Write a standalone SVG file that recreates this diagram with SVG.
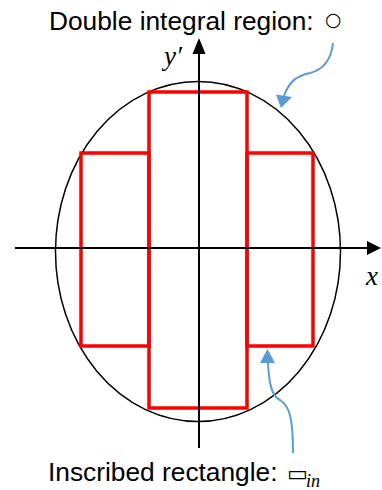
<svg xmlns="http://www.w3.org/2000/svg" width="382" height="490" viewBox="0 0 382 490">
<style>
.lbl{font-family:"Liberation Sans",Arial,sans-serif;font-size:26.3px;fill:#000}
.var{font-family:"Liberation Serif","Times New Roman",serif;font-style:italic;fill:#000}
.sym{font-family:"DejaVu Sans",sans-serif;fill:#000}
.axis{stroke:#000;stroke-width:2;fill:none}
.rect{fill:none;stroke:#FF0000;stroke-width:3.5}
.call{fill:none;stroke:#5B9BD5;stroke-width:2}
.callhead{fill:#5B9BD5}
</style>
<rect width="382" height="490" fill="#fff"/>
<g id="region">
<ellipse cx="198" cy="251.5" rx="142.5" ry="170" fill="none" stroke="#000" stroke-width="1.5"/>
</g>
<g id="rectangles">
<rect class="rect" x="149" y="92" width="98" height="316"/>
<rect class="rect" x="81" y="153" width="68" height="193"/>
<rect class="rect" x="247" y="153" width="66" height="193"/>
</g>
<g id="axes">
<line class="axis" x1="199" y1="448" x2="199" y2="52"/>
<polygon points="199,38 192.5,54 205.5,54" fill="#000"/>
<line class="axis" x1="15" y1="248" x2="368" y2="248"/>
<polygon points="381,248 367,241 367,255" fill="#000"/>
<text class="var" x="164" y="65" font-size="27">y′</text>
<text class="var" x="366" y="285" font-size="27">x</text>
</g>
<g id="connectors">
<path class="call" d="M333,43 C331,62 322,70 310,73 C296,76 289,82 284,96"/>
<polygon class="callhead" points="281,108 276,94.5 292,97"/>
<path class="call" d="M268,362 C269,385 272,396 280,400 C290,406 293,420 293,453"/>
<polygon class="callhead" points="267.5,349 260,363 275,363"/>
</g>
<g id="label-top">
<text class="lbl" x="49" y="30">Double integral region: </text>
<text class="sym" x="325" y="26" font-size="19">○</text>
</g>
<g id="label-bottom">
<text class="lbl" x="48" y="481">Inscribed rectangle: </text>
<text class="sym" x="287" y="481" font-size="22">▭</text>
<text class="var" x="306" y="487" font-size="18">in</text>
</g>
</svg>
